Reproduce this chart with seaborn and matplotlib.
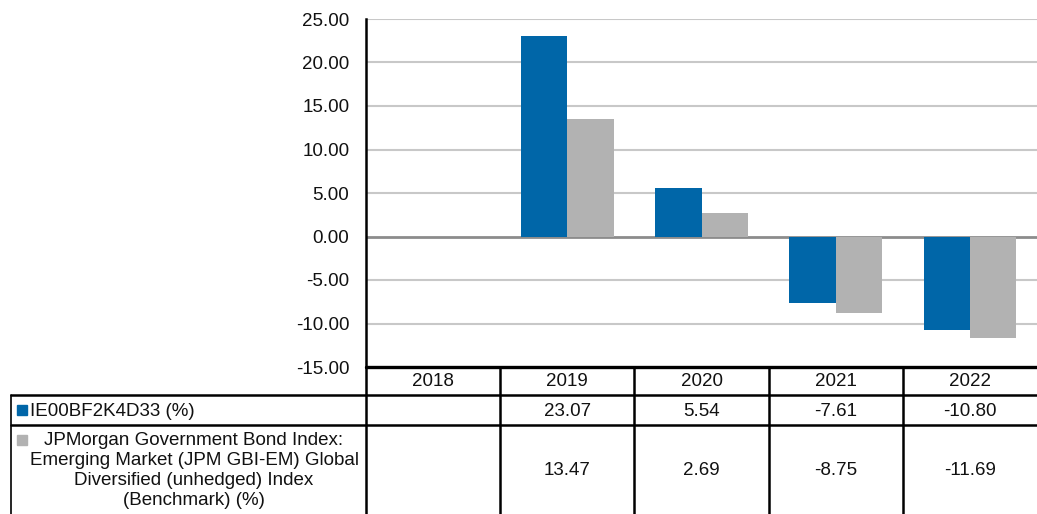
import matplotlib
matplotlib.use("Agg")
import matplotlib.pyplot as plt
import matplotlib.transforms as mtransforms
import numpy as np
import pandas as pd
import seaborn as sns
from matplotlib.lines import Line2D
from matplotlib.patches import Rectangle

years = ["2018", "2019", "2020", "2021", "2022"]
fund_name = "IE00BF2K4D33 (%)"
bench_name = ("JPMorgan Government Bond Index:\nEmerging Market (JPM GBI-EM) Global\n"
              "Diversified (unhedged) Index\n(Benchmark) (%)")
fund_values = [np.nan, 23.07, 5.54, -7.61, -10.80]
bench_values = [np.nan, 13.47, 2.69, -8.75, -11.69]
yticks = [-15, -10, -5, 0, 5, 10, 15, 20, 25]

BLUE = "#0066a8"
GREY = "#b2b2b2"
FS = 13.5

df = pd.DataFrame({
    "year": years * 2,
    "value": fund_values + bench_values,
    "series": ["fund"] * len(years) + ["bench"] * len(years),
})

sns.set_style("white")
plt.rcParams["font.family"] = ["Liberation Sans", "DejaVu Sans"]

W, H = 1037, 514
fig = plt.figure(figsize=(W / 100, H / 100), dpi=100)
ax = fig.add_axes([366 / W, (H - 367) / H, (W - 366) / W, 348 / H])

sns.barplot(data=df, x="year", y="value", hue="series", order=years,
            hue_order=["fund", "bench"], palette={"fund": BLUE, "bench": GREY},
            width=0.69, gap=0, saturation=1, linewidth=0, legend=False, ax=ax)

ax.set_ylim(-15, 25)
ax.set_xlim(-0.5, len(years) - 0.5)
ax.set_yticks(yticks)
ax.set_yticklabels([f"{v:.2f}" for v in yticks], fontsize=FS, color="#111111")
ax.set_xticks([])
ax.set_xlabel("")
ax.set_ylabel("")
ax.tick_params(axis="y", length=0, pad=12)
for v in yticks:
    if v == 0:
        ax.axhline(v, color="#8c8c8c", lw=2, zorder=0.5)
    elif v != -15:
        ax.axhline(v, color="#c8c8c8", lw=1.5, zorder=0.5)
for side in ["top", "right", "bottom"]:
    ax.spines[side].set_visible(False)
ax.spines["left"].set_color("black")
ax.spines["left"].set_linewidth(1.8)

# data table below the plot
# x in axis data units, y in figure pixels (from top)
px = mtransforms.Affine2D().scale(1 / W, -1 / H).translate(0, 1) + fig.transFigure
blend = mtransforms.blended_transform_factory(ax.transData, px)

y_head, y_r1, y_r2, y_end = 367, 395, 425, 516
x_left_px = 11
xmax = len(years) - 0.5
lw = 1.8

# horizontal rules
fig.add_artist(Line2D([-0.5, xmax], [y_head, y_head], transform=blend, color="black", lw=2.4))
for yy in (y_r1, y_r2):
    fig.add_artist(Line2D([x_left_px, W], [yy, yy], transform=px, color="black", lw=lw))
# vertical rules
for i in range(len(years)):
    fig.add_artist(Line2D([i - 0.5, i - 0.5], [y_head, y_end], transform=blend,
                          color="black", lw=lw))
fig.add_artist(Line2D([x_left_px, x_left_px], [y_r1, y_end], transform=px, color="black", lw=1.2))

# header + values
for i, yr in enumerate(years):
    fig.text(i, (y_head + y_r1) / 2 + 1, yr, transform=blend, ha="center", va="center",
             fontsize=FS, color="#111111")
    if not np.isnan(fund_values[i]):
        fig.text(i, (y_r1 + y_r2) / 2 + 1, f"{fund_values[i]:.2f}", transform=blend,
                 ha="center", va="center", fontsize=FS, color="#111111")
    if not np.isnan(bench_values[i]):
        fig.text(i, (y_r2 + y_end) / 2, f"{bench_values[i]:.2f}", transform=blend,
                 ha="center", va="center", fontsize=FS, color="#111111")

# row labels with colour keys
fig.add_artist(Rectangle((17, 405), 10, 10, transform=px, color=BLUE))
fig.text(30, (y_r1 + y_r2) / 2 + 1, fund_name, transform=px, ha="left", va="center",
         fontsize=FS, color="#111111")
fig.add_artist(Rectangle((17, 435), 10, 10, transform=px, color=GREY))
fig.text(194, (y_r2 + y_end) / 2, bench_name, transform=px, ha="center", va="center",
         fontsize=FS, color="#111111", linespacing=1.22)

fig.savefig("out.png", dpi=100)
